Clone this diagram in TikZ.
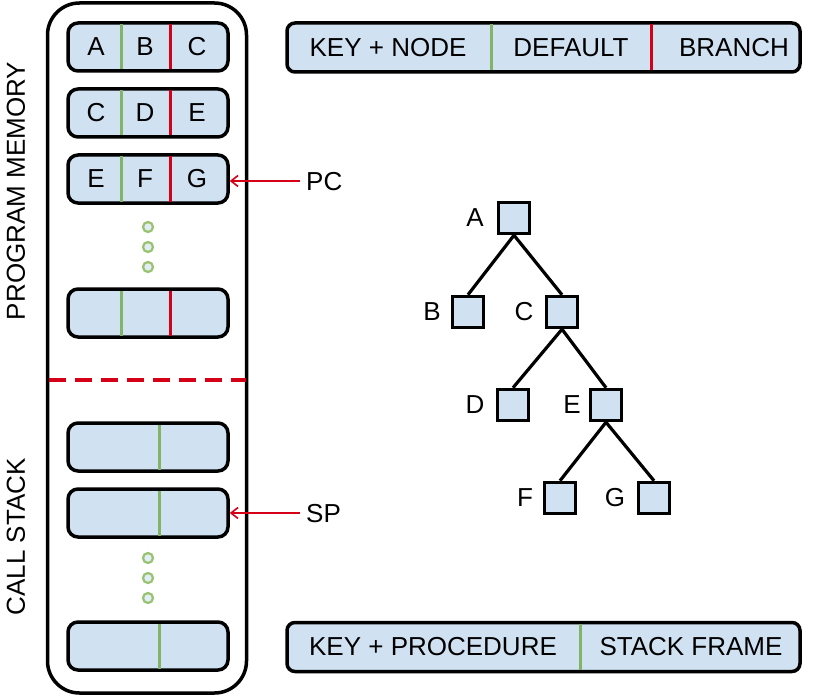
\documentclass[tikz,border=0pt]{standalone}
\usepackage{fontspec}
\setmainfont{Liberation Sans}
\usetikzlibrary{arrows.meta}
\definecolor{cellfill}{HTML}{D0E1F2}
\definecolor{dgreen}{HTML}{82B366}
\definecolor{dred}{HTML}{D50018}
\definecolor{dotgreen}{HTML}{97C36F}
\tikzset{
  txt/.style={font=\fontsize{26}{30}\selectfont, inner sep=0pt},
  rowbox/.style={draw=black, line width=3.5pt, fill=cellfill, rounded corners=10pt, minimum width=160pt, minimum height=48pt, inner sep=0pt},
  legbox/.style={draw=black, line width=3.5pt, fill=cellfill, rounded corners=8pt, minimum width=513pt, minimum height=49pt, inner sep=0pt},
  treebox/.style={draw=black, line width=3.5pt, fill=cellfill, minimum size=31pt, inner sep=0pt},
  gdiv/.style={draw=dgreen, line width=3pt},
  rdiv/.style={draw=dred, line width=3pt},
  edge/.style={draw=black, line width=3.2pt},
  ptr/.style={draw=dred, line width=1.6pt, -{Straight Barb[length=7pt,width=11pt,line width=1.6pt]}},
  gdot/.style={circle, draw=dotgreen, line width=2.2pt, fill=cellfill!60, minimum size=10pt, inner sep=0pt},
}
\begin{document}
\begin{tikzpicture}[x=1pt,y=-1pt]
\useasboundingbox (0,0) rectangle (822,698);
% container
\node[draw=black, line width=3.5pt, rounded corners=32pt, minimum width=199pt, minimum height=690pt, inner sep=0pt] (cont) at (147,348) {};
\draw[dred, line width=3.5pt, dash pattern=on 17pt off 9pt] (49,380) coordinate (dl) -- (246,380) coordinate (dr);
\node[txt, rotate=90] (pmlab) at (16,191) {PROGRAM MEMORY};
\node[txt, rotate=90] (cslab) at (16,537) {CALL STACK};
% program memory rows
\foreach \n/\y/\a/\b/\c in {m1/47/A/B/C, m2/113/C/D/E, m3/179/E/F/G, m4/313/{}/{}/{}} {
  \node[rowbox] (\n) at (148,\y) {};
  \draw[gdiv] (121,\y) ++(0,-22.5) coordinate (\n g1) -- ++(0,45) coordinate (\n g2);
  \draw[rdiv] (170,\y) ++(0,-22.5) coordinate (\n r1) -- ++(0,45) coordinate (\n r2);
  \node[txt] (\n a) at (96,\y) {\a};
  \node[txt] (\n b) at (145,\y) {\b};
  \node[txt] (\n c) at (197,\y) {\c};
}
\node[gdot] (pd1) at (148,227) {};
\node[gdot] (pd2) at (148,247) {};
\node[gdot] (pd3) at (148,267) {};
% call stack rows
\foreach \n/\y in {s1/447, s2/513, s3/646} {
  \node[rowbox] (\n) at (148,\y) {};
  \draw[gdiv] (159,\y) ++(0,-22.5) coordinate (\n g1) -- ++(0,45) coordinate (\n g2);
}
\node[gdot] (sd1) at (148,558) {};
\node[gdot] (sd2) at (148,578) {};
\node[gdot] (sd3) at (148,598) {};
% pointers
\node[txt, anchor=west] (pc) at (306,182) {PC};
\node[txt, anchor=west] (sp) at (306,514) {SP};
\draw[ptr] (pc.west) ++(-6,-1) coordinate (pcs) -- (m3.east |- pcs);
\draw[ptr] (sp.west) ++(-6,-1) coordinate (sps) -- (s2.east |- sps);
% legends
\node[legbox] (leg1) at (543.5,47.5) {};
\draw[gdiv] (491,24.5) coordinate (l1g1) -- (491,70.5) coordinate (l1g2);
\draw[rdiv] (651,24.5) coordinate (l1r1) -- (651,70.5) coordinate (l1r2);
\node[txt] (k1) at (388,47.5) {KEY + NODE};
\node[txt] (k2) at (571,47.5) {DEFAULT};
\node[txt] (k3) at (734,47.5) {BRANCH};
\node[legbox] (leg2) at (543.5,647) {};
\draw[gdiv] (580,624) coordinate (l2g1) -- (580,670) coordinate (l2g2);
\node[txt] (k4) at (433,647) {KEY + PROCEDURE};
\node[txt] (k5) at (691,647) {STACK FRAME};
% tree
\node[treebox] (tA) at (514,218) {};
\node[treebox] (tB) at (468,312) {};
\node[treebox] (tC) at (562,312) {};
\node[treebox] (tD) at (513,405) {};
\node[treebox] (tE) at (606,405) {};
\node[treebox] (tF) at (560,498) {};
\node[treebox] (tG) at (654,498) {};
\node[txt] (lA) at (475,218) {A};
\node[txt] (lB) at (432,312) {B};
\node[txt] (lC) at (524,312) {C};
\node[txt] (lD) at (475,405) {D};
\node[txt] (lE) at (572,405) {E};
\node[txt] (lF) at (525,498) {F};
\node[txt] (lG) at (615,498) {G};
\draw[edge] (tA.south) -- (tB.north);
\draw[edge] (tA.south) -- (tC.north);
\draw[edge] (tC.south) -- (tD.north);
\draw[edge] (tC.south) -- (tE.north);
\draw[edge] (tE.south) -- (tF.north);
\draw[edge] (tE.south) -- (tG.north);
\end{tikzpicture}
\end{document}
